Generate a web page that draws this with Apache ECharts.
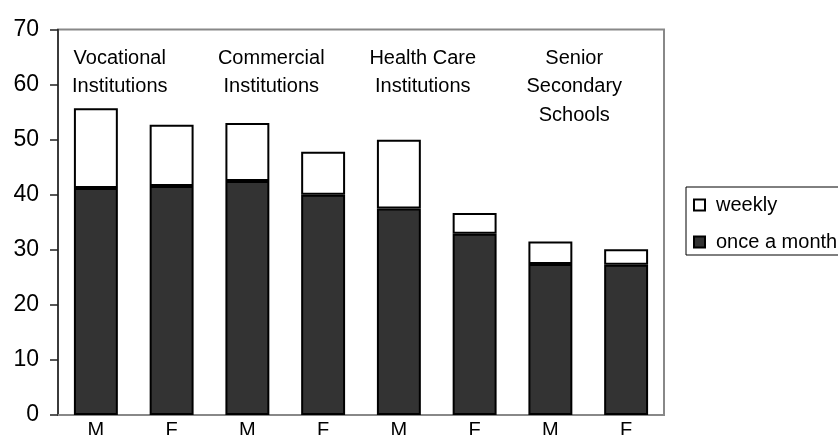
<!DOCTYPE html>
<html>
<head>
<meta charset="utf-8">
<script src="https://cdn.jsdelivr.net/npm/echarts@6/dist/echarts.min.js"></script>
<style>
  html, body { margin: 0; padding: 0; background: #fff; }
  #chart { width: 838px; height: 435px; }
</style>
</head>
<body>
<div id="chart"></div>
<script>
// Sex of respondents, two bars per institution type
const categories = ['M', 'F', 'M', 'F', 'M', 'F', 'M', 'F'];
// Institution groups, one per pair of bars
const groupNames = [
  'Vocational\nInstitutions',
  'Commercial\nInstitutions',
  'Health Care\nInstitutions',
  'Senior\nSecondary\nSchools'
];
// Share (%) reporting use once a month
const onceAMonth = [41.2, 41.6, 42.5, 40.0, 37.5, 32.9, 27.4, 27.3];
// Additional share (%) reporting weekly use, stacked on top
const weekly = [14.5, 11.1, 10.5, 7.8, 12.5, 3.8, 4.1, 2.8];
// Value axis ticks
const yTicks = { min: 0, max: 70, interval: 10 };

const FONT = "'Liberation Sans', Arial, sans-serif";
const DARK = '#333333';

const chart = echarts.init(document.getElementById('chart'), null, { renderer: 'canvas' });

const option = {
  animation: false,
  backgroundColor: '#ffffff',
  grid: {
    left: 58, right: 174, top: 29.5, bottom: 20,
    containLabel: false,
    outerBoundsMode: 'none',
    show: true, borderColor: '#888888', borderWidth: 2, backgroundColor: 'transparent'
  },
  legend: {
    orient: 'vertical',
    left: 686, top: 187,
    backgroundColor: '#ffffff',
    borderColor: '#000000', borderWidth: 1,
    padding: [8, 30, 3, 7],
    itemWidth: 11, itemHeight: 11,
    itemGap: 17,
    textStyle: { fontFamily: FONT, fontSize: 20, color: '#000', lineHeight: 20, padding: [0, 0, 0, 6] },
    data: [
      { name: 'weekly', icon: 'rect', itemStyle: { color: '#ffffff', borderColor: '#000', borderWidth: 2 } },
      { name: 'once a month', icon: 'rect', itemStyle: { color: DARK, borderColor: '#000', borderWidth: 2 } }
    ]
  },
  xAxis: {
    type: 'category',
    data: categories,
    axisLine: { show: true, lineStyle: { color: '#888888', width: 2 } },
    axisTick: { show: false },
    axisLabel: { fontFamily: FONT, fontSize: 20, color: '#000', margin: 5 }
  },
  yAxis: {
    type: 'value',
    min: yTicks.min, max: yTicks.max, interval: yTicks.interval,
    axisLine: { show: true, lineStyle: { color: '#222', width: 1.5 } },
    axisTick: { show: true, length: 8, lineStyle: { color: '#222', width: 1.5 } },
    splitLine: { show: false },
    axisLabel: { fontFamily: FONT, fontSize: 23, color: '#000', margin: 19 }
  },
  series: [
    {
      name: 'once a month', type: 'bar', stack: 'use',
      data: onceAMonth, barWidth: '58%',
      itemStyle: { color: DARK, borderColor: '#000', borderWidth: 2 }
    },
    {
      name: 'weekly', type: 'bar', stack: 'use',
      data: weekly, barWidth: '58%',
      itemStyle: { color: '#ffffff', borderColor: '#000', borderWidth: 2 }
    }
  ]
};

chart.setOption(option);

// Group headings, centred a little left of each bar pair
function placeGroupLabels() {
  const elements = groupNames.map((name, g) => {
    const left = chart.convertToPixel({ xAxisIndex: 0 }, 2 * g);
    const right = chart.convertToPixel({ xAxisIndex: 0 }, 2 * g + 1);
    return {
      type: 'text',
      x: (left + right) / 2 - 14,
      y: 44,
      style: {
        text: name,
        fontFamily: FONT, fontSize: 20, lineHeight: 28.5,
        fill: '#000', align: 'center', verticalAlign: 'top'
      }
    };
  });
  chart.setOption({ graphic: elements });
}
placeGroupLabels();
</script>
</body>
</html>
